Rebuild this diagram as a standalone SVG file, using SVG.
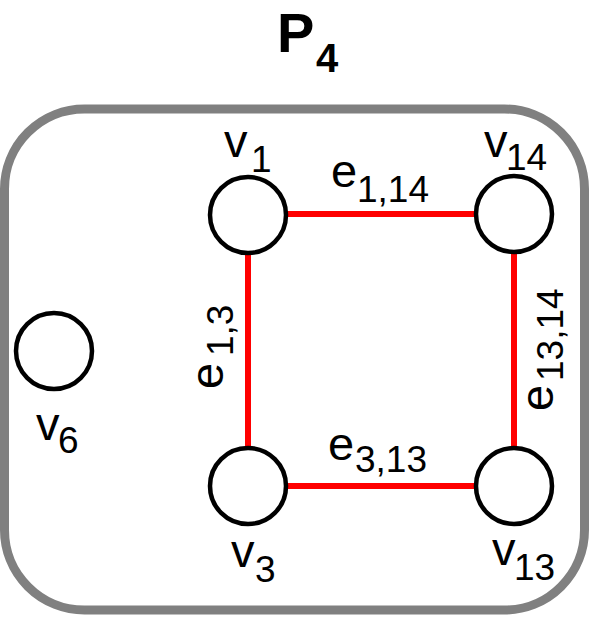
<svg xmlns="http://www.w3.org/2000/svg" width="591" height="620" viewBox="0 0 591 620">
<style>
.frame{fill:none;stroke:#808080;stroke-width:9}
.node{fill:#fff;stroke:#000;stroke-width:4.5}
.edge{stroke:#ff0000;stroke-width:6;fill:none}
.lbl{font-family:"Liberation Sans",Arial,sans-serif;font-size:47px;fill:#000}
.sub{font-size:37px}
.title{font-family:"Liberation Sans",Arial,sans-serif;font-weight:bold;font-size:56px;fill:#000}
</style>
<rect width="591" height="620" fill="#fff"/>
<text class="title" x="277" y="52">P<tspan x="316" y="72" style="font-size:40px">4</tspan></text>
<rect id="frame" class="frame" x="4.5" y="109" width="580" height="501" rx="80" ry="80"/>
<g id="edges">
<line class="edge" x1="286" y1="214" x2="476" y2="214"/>
<line class="edge" x1="248" y1="253" x2="248" y2="448"/>
<line class="edge" x1="286" y1="486" x2="476" y2="486"/>
<line class="edge" x1="514" y1="252" x2="514" y2="448"/>
<text class="lbl" x="331" y="187">e<tspan class="sub" x="357" y="202">1,14</tspan></text>
<text class="lbl" x="328" y="460">e<tspan class="sub" x="355" y="472">3,13</tspan></text>
<text class="lbl" transform="translate(223,389) rotate(-90)" x="0" y="0">e<tspan class="sub" x="33" y="10">1,3</tspan></text>
<text class="lbl" transform="translate(553,411) rotate(-90)" x="0" y="0">e<tspan class="sub" x="30" y="10">13,14</tspan></text>
</g>
<g id="v1"><circle class="node" cx="248" cy="215" r="38"/><text class="lbl" x="224" y="157">v<tspan class="sub" x="251" y="172">1</tspan></text></g>
<g id="v14"><circle class="node" cx="514" cy="214" r="38"/><text class="lbl" x="484" y="157">v<tspan class="sub" x="506" y="170">14</tspan></text></g>
<g id="v3"><circle class="node" cx="248" cy="486" r="38"/><text class="lbl" x="231" y="567">v<tspan class="sub" x="255" y="582">3</tspan></text></g>
<g id="v13"><circle class="node" cx="514" cy="486" r="38"/><text class="lbl" x="492" y="565">v<tspan class="sub" x="514" y="580">13</tspan></text></g>
<g id="v6"><circle class="node" cx="54" cy="351" r="38"/><text class="lbl" x="36" y="440">v<tspan class="sub" x="58" y="453">6</tspan></text></g>
</svg>
